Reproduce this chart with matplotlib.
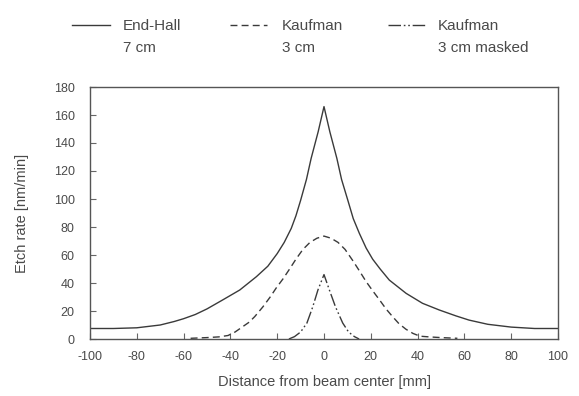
"""Etch rate profiles vs. distance from beam center."""
import matplotlib
matplotlib.use('Agg')
import matplotlib.pyplot as plt
from matplotlib.lines import Line2D

plt.rcParams['font.family'] = ['Liberation Sans', 'DejaVu Sans']
plt.rcParams['axes.unicode_minus'] = False

# End-Hall, 7 cm
endhall_x = [-100, -90, -80, -70, -64, -60, -55, -50, -43.2, -36, -28.9,
             -24, -20, -17, -14, -12, -10, -7.5, -5.5, -2.5, 0,
             2.5, 5.5, 7.5, 10.2, 12.5, 15.1, 18, 20.8, 24, 27.9, 35.1, 42.1,
             49.3, 56.4, 62, 70, 80, 90, 100]
endhall_y = [7.5, 7.5, 8, 10, 12.5, 14.5, 17.5, 21.5, 28, 35, 44.5,
             52, 61, 69, 79, 88, 99, 114, 129, 148, 166,
             148, 129, 114, 99, 86, 75.5, 65, 57, 50, 42.1, 32.6, 25.5,
             20.7, 16.5, 13.5, 10.5, 8.5, 7.5, 7.5]

# Kaufman, 3 cm
kauf_x = [-57, -50, -45, -41, -38, -35, -32, -29.6, -26.1, -23, -20.4, -17.5,
          -14.7, -12, -9, -6, -3, 0, 3, 6, 9, 12.3, 15, 18, 21, 23.7, 26.5,
          29.3, 32, 35, 38, 41, 45, 50, 57]
kauf_y = [0.5, 1, 1.5, 2.5, 5, 8.5, 12, 16, 23, 30, 36.5, 43,
          50, 57, 64, 69, 72, 73.5, 72, 69, 64, 56, 49, 41, 34, 28, 21.5,
          16, 11, 7, 4, 2, 1.5, 1, 0.5]

# Kaufman, 3 cm masked
mask_x = [-15, -12.6, -10, -7.3, -4.8, -2.6, 0, 2.3, 4.9, 8, 10.5, 13, 15]
mask_y = [0, 1.7, 5, 11.4, 23, 35, 46, 35, 23, 11.4, 5, 1.7, 0]

x_ticks = list(range(-100, 101, 20))
y_ticks = list(range(0, 181, 20))

LINE_COLOR = '#3a3a3a'
TEXT_COLOR = '#4a4a4a'
DASHED = (0, (5, 3))
DASHDOT = (0, (9, 2, 1.2, 2, 1.2, 2))


def main():
    fig = plt.figure(figsize=(5.79, 3.96), dpi=100)
    W, H = 579.0, 396.0
    ax = fig.add_axes([90 / W, 1 - 339 / H, 468 / W, 252 / H])

    ax.plot(endhall_x, endhall_y, color=LINE_COLOR, linewidth=1.0)
    ax.plot(kauf_x, kauf_y, color=LINE_COLOR, linewidth=1.0, linestyle=DASHED)
    ax.plot(mask_x, mask_y, color=LINE_COLOR, linewidth=1.0, linestyle=DASHDOT)

    ax.set_xlim(-100, 100)
    ax.set_ylim(0, 180)
    ax.set_xticks(x_ticks)
    ax.set_yticks(y_ticks)
    ax.tick_params(direction='in', length=4, width=0.8, color='#666666',
                   labelsize=9, labelcolor=TEXT_COLOR)
    ax.tick_params(axis='x', pad=9)
    ax.tick_params(axis='y', pad=11)
    for sp in ax.spines.values():
        sp.set_color('#555555')
        sp.set_linewidth(1.0)

    ax.set_xlabel('Distance from beam center [mm]', fontsize=10.5,
                  color=TEXT_COLOR, labelpad=8)
    ax.set_ylabel('Etch rate [nm/min]', fontsize=10.5, color=TEXT_COLOR,
                  labelpad=18)

    # legend drawn by hand: sample line next to a two-line label
    entries = [
        (72, 110, 123, '-', 'End-Hall', '7 cm'),
        (230, 267, 282, DASHED, 'Kaufman', '3 cm'),
        (388, 425, 438, DASHDOT, 'Kaufman', '3 cm masked'),
    ]
    for x0, x1, tx, ls, line1, line2 in entries:
        fig.add_artist(Line2D([x0 / W, x1 / W], [1 - 25 / H, 1 - 25 / H],
                              color=LINE_COLOR, linewidth=1.0, linestyle=ls))
        fig.text(tx / W, 1 - 26.5 / H, line1, fontsize=11, color=TEXT_COLOR,
                 ha='left', va='center')
        fig.text(tx / W, 1 - 47.5 / H, line2, fontsize=11, color=TEXT_COLOR,
                 ha='left', va='center')

    fig.savefig('out.png', dpi=100)
    plt.close(fig)


if __name__ == '__main__':
    main()
